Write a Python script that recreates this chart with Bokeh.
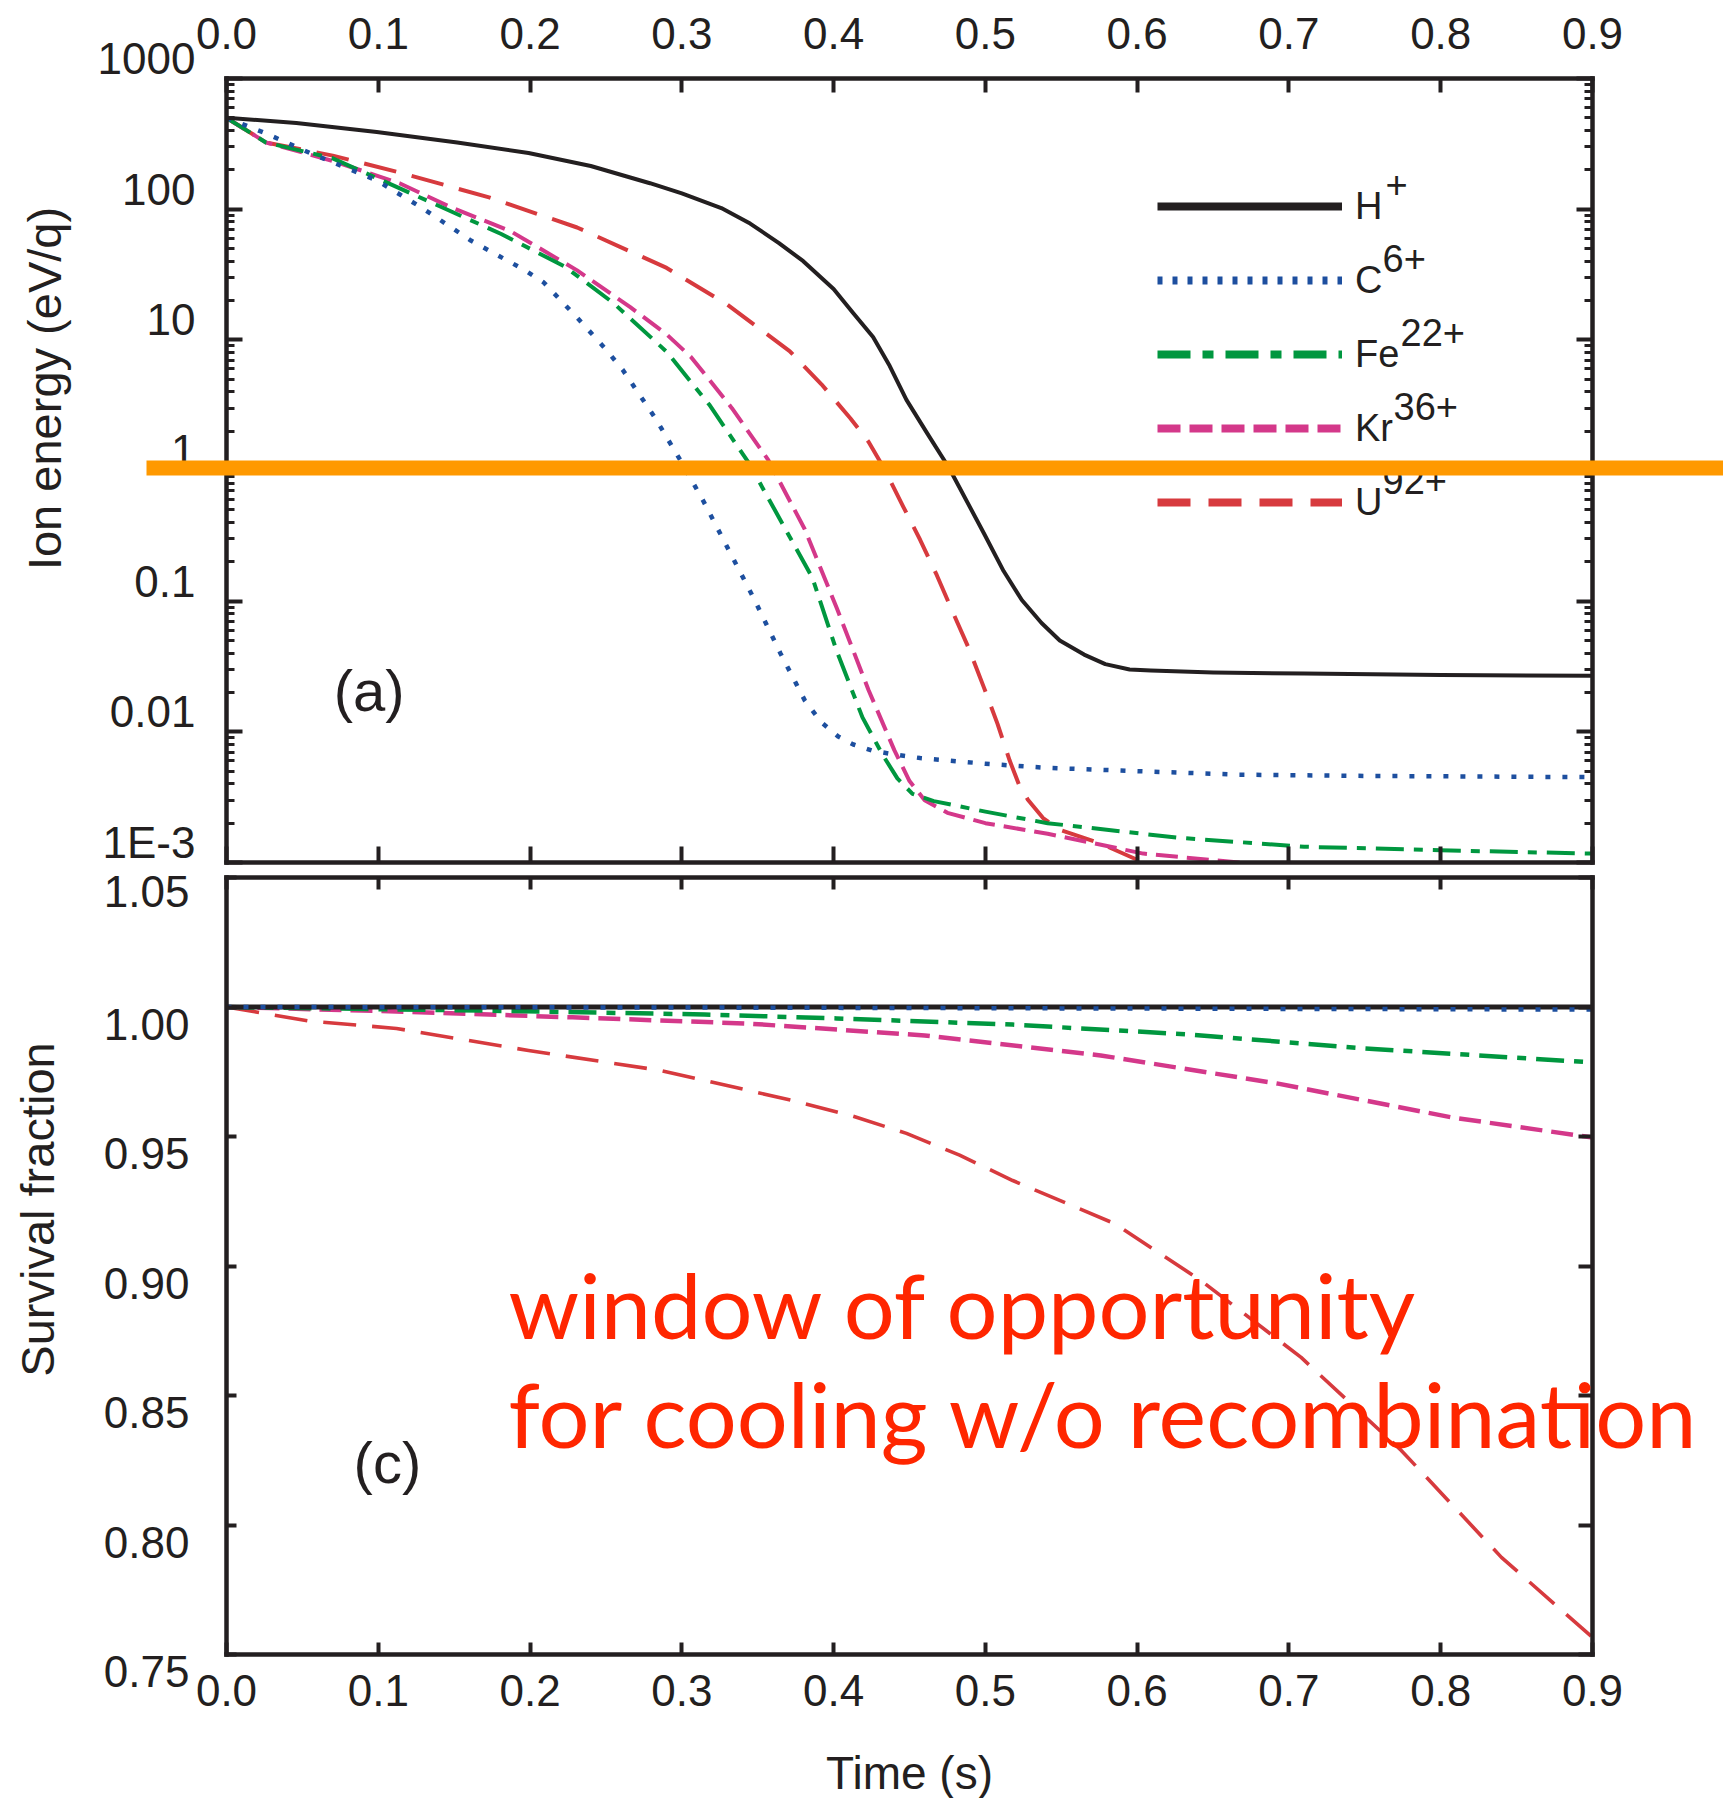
import math
from bokeh.plotting import figure
from bokeh.models import (Range1d, LinearAxis, LogAxis, FixedTicker, PrintfTickFormatter,
                          CustomJSTickFormatter, Legend, LegendItem, Label, BoxAnnotation)
from bokeh.layouts import column
from bokeh.embed import file_html
from bokeh.resources import INLINE

# ---------------- data: (a) ion energy (eV/q) vs time (s) ----------------
T_H = [0.000, 0.046, 0.099, 0.152, 0.199, 0.240, 0.279, 0.300, 0.326, 0.345, 0.364, 0.380,
       0.400, 0.413, 0.426, 0.437, 0.448, 0.462, 0.476, 0.499, 0.512, 0.524, 0.537, 0.549,
       0.565, 0.579, 0.595, 0.609, 0.650, 0.710, 0.800, 0.900]
E_H = [500, 457, 389, 324, 269, 214, 158, 132, 102, 77.6, 55, 40,
       24.5, 16, 10.5, 6.3, 3.47, 1.9, 1.05, 0.331, 0.170, 0.102, 0.068, 0.050,
       0.039, 0.033, 0.030, 0.0295, 0.0285, 0.0279, 0.0272, 0.0269]

T_C = [0.000, 0.026, 0.055, 0.099, 0.129, 0.161, 0.197, 0.209, 0.231, 0.249, 0.261, 0.282,
       0.299, 0.314, 0.331, 0.348, 0.365, 0.381, 0.392, 0.403, 0.413, 0.425, 0.440, 0.457, 0.500,
       0.541, 0.600, 0.667, 0.750, 0.900]
E_C = [500, 380, 269, 166, 102, 57.5, 33.9, 27.5, 14.8, 8.7, 5.9, 2.57,
       1.20, 0.589, 0.245, 0.102, 0.0398, 0.0174, 0.0118, 0.0092, 0.0080, 0.0072, 0.0067, 0.0063, 0.0057,
       0.0053, 0.0050, 0.0047, 0.0046, 0.0045]

T_FE = [0.000, 0.026, 0.070, 0.143, 0.181, 0.223, 0.255, 0.290, 0.318, 0.344, 0.364, 0.386,
        0.402, 0.419, 0.432, 0.442, 0.452, 0.466, 0.500, 0.541, 0.626, 0.710, 0.800, 0.900]
E_FE = [500, 324, 245, 102, 64.6, 36.3, 19.1, 8.1, 3.2, 1.15, 0.437, 0.151,
        0.0417, 0.0129, 0.00676, 0.00440, 0.00335, 0.00295, 0.00245, 0.00200, 0.00155, 0.00132,
        0.00124, 0.00117]

T_KR = [0.000, 0.026, 0.070, 0.114, 0.149, 0.187, 0.231, 0.266, 0.290, 0.306, 0.333, 0.357,
        0.381, 0.402, 0.423, 0.440, 0.450, 0.460, 0.475, 0.500, 0.541, 0.604, 0.667, 0.720]
E_KR = [500, 324, 234, 158, 102, 68, 34, 17.8, 11.0, 7.4, 3.0, 1.2,
        0.355, 0.089, 0.0209, 0.00724, 0.00420, 0.00300, 0.00240, 0.00200, 0.00166, 0.00117,
        0.00100, 0.00089]

T_U = [0.000, 0.026, 0.070, 0.114, 0.173, 0.231, 0.290, 0.330, 0.371, 0.392, 0.411, 0.423,
       0.433, 0.446, 0.457, 0.468, 0.478, 0.489, 0.499, 0.508, 0.516, 0.522, 0.528, 0.538,
       0.549, 0.575, 0.600, 0.620]
E_U = [500, 324, 257, 191, 123, 72.4, 35.5, 18.6, 8.2, 4.57, 2.51, 1.66,
       1.05, 0.525, 0.295, 0.158, 0.0851, 0.0437, 0.0219, 0.0115, 0.00603, 0.00398, 0.00302, 0.00219,
       0.00178, 0.00141, 0.00105, 0.00089]

# ---------------- data: (c) survival fraction vs time (s) ----------------
ST_H = [0.0, 0.3, 0.6, 0.9]
S_H = [1.0, 1.0, 1.0, 1.0]
ST_C = [0.0, 0.3, 0.6, 0.9]
S_C = [1.0, 0.9998, 0.9994, 0.9990]
ST_FE = [0.0, 0.170, 0.315, 0.402, 0.518, 0.634, 0.750, 0.900]
S_FE = [1.0, 0.9986, 0.9971, 0.9956, 0.9932, 0.9894, 0.9840, 0.9786]
ST_KR = [0.0, 0.112, 0.228, 0.344, 0.460, 0.576, 0.692, 0.808, 0.900]
S_KR = [1.0, 0.9983, 0.9960, 0.9936, 0.9890, 0.9813, 0.9705, 0.9573, 0.9496]
ST_U = [0.0, 0.054, 0.112, 0.199, 0.286, 0.373, 0.412, 0.448, 0.483, 0.518, 0.585, 0.642,
        0.708, 0.774, 0.840, 0.900]
S_U = [1.0, 0.9946, 0.9917, 0.9832, 0.9755, 0.9639, 0.9580, 0.9512, 0.9428, 0.9330, 0.9164, 0.8944,
       0.8647, 0.8288, 0.7875, 0.7566]

# ---------------- ticks / labels ----------------
TIME_TICKS = [0.0, 0.1, 0.2, 0.3, 0.4, 0.5, 0.6, 0.7, 0.8, 0.9]
ENERGY_TICKS = [1000, 100, 10, 1, 0.1, 0.01, 0.001]
ENERGY_TICK_LABELS = ["1000", "100", "10", "1", "0.1", "0.01", "1E-3"]
ENERGY_MINOR = [k * 10.0 ** e for e in range(-3, 3) for k in range(2, 10)]
SURV_TICKS = [0.75, 0.80, 0.85, 0.90, 0.95, 1.00, 1.05]
SURV_TICK_LABELS = ["0.75", "0.80", "0.85", "0.90", "0.95", "1.00", "1.05"]

ION_NAMES = ["H", "C", "Fe", "Kr", "U"]
ION_CHARGES = ["+", "6+", "22+", "36+", "92+"]

INK = "#231F20"
FONT = "Liberation Sans"
COLORS = {"H": "#231F20", "C": "#1D4F9F", "Fe": "#00973F", "Kr": "#D4388A", "U": "#D73A3E"}
DASH_DATA = {"H": "solid", "C": "5 12", "Fe": "28 10 9 10", "Kr": "22 9", "U": "33 16"}
DASH_LEG = {"H": "solid", "C": "5 10", "Fe": "33 12 11 12", "Kr": "23 9", "U": "33 18"}
TOP_WIDTH = {"H": 4, "C": 4.5, "Fe": 4, "Kr": 4, "U": 4}
NAN = float("nan")


def style_axis(ax, tick_in, minor_in=0, labels=False, standoff=10):
    ax.axis_line_color = INK
    ax.axis_line_width = 4.5
    ax.axis_line_cap = "square"
    ax.major_tick_line_color = INK
    ax.major_tick_line_width = 4
    ax.major_tick_in = tick_in
    ax.major_tick_out = 0
    if minor_in:
        ax.minor_tick_line_color = INK
        ax.minor_tick_line_width = 3
        ax.minor_tick_in = minor_in
        ax.minor_tick_out = 0
    else:
        ax.minor_tick_line_color = None
    if labels:
        ax.major_label_text_font = FONT
        ax.major_label_text_font_size = "44px"
        ax.major_label_text_color = INK
        ax.major_label_standoff = standoff
    else:
        ax.formatter = CustomJSTickFormatter(code="return ''")
        ax.major_label_text_font_size = "0px"
        ax.major_label_standoff = 0


def label_formatter(vals, labs, log=False, shift="none", keep=-1):
    # shift: add an empty line below ("up") or above ("down") the label so the visible
    # text sits a little above / below its tick as in the original; tick index `keep`
    # is left as a single line (it sits at the edge of the canvas)
    pre = "\\n" if shift == "down" else ""
    post = "\\n" if shift == "up" else ""
    code = """
    const f = (v) => LOG ? Math.log10(v) : v;
    for (let i = 0; i < vals.length; i++) {
        if (Math.abs(f(vals[i]) - f(tick)) < 1e-6) {
            if (i == KEEP) { return labs[i]; }
            return "PRE" + labs[i] + "POST";
        }
    }
    return '';
    """.replace("LOG", "true" if log else "false").replace("PRE", pre) \
       .replace("POST", post).replace("KEEP", str(keep))
    return CustomJSTickFormatter(args=dict(vals=vals, labs=labs), code=code)


def time_ticker():
    return FixedTicker(ticks=TIME_TICKS, minor_ticks=[])


def clean(p):
    p.grid.visible = False
    p.outline_line_color = None
    p.background_fill_color = "white"
    p.border_fill_color = "white"

# ================= top panel (a) =================
p1 = figure(width=1723, height=866, x_range=Range1d(0, 0.9), y_range=Range1d(1e-3, 1e3),
            y_axis_type="log", x_axis_location="above", output_backend="svg",
            toolbar_location=None, min_border_left=226, min_border_right=131,
            min_border_top=78, min_border_bottom=4)
clean(p1)

ax = p1.xaxis[0]
ax.ticker = time_ticker()
ax.formatter = PrintfTickFormatter(format="%.1f")
style_axis(ax, 14, labels=True, standoff=30)

ay = p1.yaxis[0]
ay.ticker = FixedTicker(ticks=ENERGY_TICKS, minor_ticks=ENERGY_MINOR)
style_axis(ay, 16, minor_in=8, labels=True, standoff=31)
ay.formatter = label_formatter(ENERGY_TICKS, ENERGY_TICK_LABELS, log=True, shift="up",
                               keep=len(ENERGY_TICKS) - 1)
ay.major_label_text_line_height = 0.82

axb = LinearAxis(ticker=time_ticker())
style_axis(axb, 16)
p1.add_layout(axb, "below")
ayr = LogAxis(ticker=FixedTicker(ticks=ENERGY_TICKS, minor_ticks=ENERGY_MINOR))
style_axis(ayr, 16, minor_in=8)
p1.add_layout(ayr, "right")

top_data = {"H": (T_H, E_H), "C": (T_C, E_C), "Fe": (T_FE, E_FE), "Kr": (T_KR, E_KR), "U": (T_U, E_U)}
for name in ["U", "Kr", "Fe", "C", "H"]:
    t, e = top_data[name]
    p1.line(t, e, line_color=COLORS[name], line_width=TOP_WIDTH[name], line_dash=DASH_DATA[name],
            line_join="round")

p1.add_layout(Label(x=0.094, y=0.0207, text="(a)", text_font=FONT, text_font_size="58px",
                    text_color=INK, text_align="center", text_baseline="middle"))

# legend (legend-only renderers with thicker sample lines; nothing is drawn in the plot)
items = []
for name in ION_NAMES:
    r = p1.line(x=[NAN], y=[NAN], line_color=COLORS[name], line_width=8, line_dash=DASH_LEG[name])
    items.append(LegendItem(label=name, renderers=[r]))
legend = Legend(items=items, location=(931, 336), orientation="vertical",
                glyph_width=185, glyph_height=48, label_height=48, spacing=26,
                padding=0, margin=0, label_standoff=13,
                background_fill_alpha=0, border_line_alpha=0,
                label_text_font=FONT, label_text_font_size="38px", label_text_color=INK)
p1.add_layout(legend)
SUP_X = [1159, 1156, 1174, 1167, 1156]
for i, ch in enumerate(ION_CHARGES):
    row_center = 336 + 24 + (len(ION_NAMES) - 1 - i) * 74
    p1.add_layout(Label(x=SUP_X[i], y=row_center + 22.5, x_units="screen", y_units="screen",
                        text=ch, text_font=FONT, text_font_size="38px", text_color=INK,
                        text_align="left", text_baseline="middle"))

# ================= bottom panel (c) =================
p2 = figure(width=1723, height=932, x_range=Range1d(0, 0.9), y_range=Range1d(0.75, 1.05),
            output_backend="svg", toolbar_location=None,
            min_border_left=226, min_border_right=131, min_border_top=11, min_border_bottom=144)
clean(p2)

bx = p2.xaxis[0]
bx.ticker = time_ticker()
bx.formatter = PrintfTickFormatter(format="%.1f")
style_axis(bx, 12, labels=True, standoff=20)

by = p2.yaxis[0]
by.ticker = FixedTicker(ticks=SURV_TICKS, minor_ticks=[])
style_axis(by, 10, labels=True, standoff=37)
by.formatter = label_formatter(SURV_TICKS, SURV_TICK_LABELS, shift="down",
                               keep=len(SURV_TICKS) - 1)
by.major_label_text_line_height = 0.7

bxa = LinearAxis(ticker=time_ticker())
style_axis(bxa, 12)
p2.add_layout(bxa, "above")
byr = LinearAxis(ticker=FixedTicker(ticks=SURV_TICKS, minor_ticks=[]))
style_axis(byr, 14)
p2.add_layout(byr, "right")

bot_data = {"H": (ST_H, S_H), "C": (ST_C, S_C), "Fe": (ST_FE, S_FE), "Kr": (ST_KR, S_KR), "U": (ST_U, S_U)}
bot_width = {"H": 5, "C": 4.5, "Fe": 4.5, "Kr": 4.5, "U": 3.6}
for name in ["U", "Kr", "Fe", "H", "C"]:
    t, s = bot_data[name]
    p2.line(t, s, line_color=COLORS[name], line_width=bot_width[name], line_dash=DASH_DATA[name],
            line_join="round")

p2.add_layout(Label(x=0.106, y=0.824, text="(c)", text_font=FONT, text_font_size="58px",
                    text_color=INK, text_align="center", text_baseline="middle"))

# ================= transparent overlay for items that cross the plot frames =================
ov = figure(width=1723, height=1798, x_range=Range1d(0, 1723), y_range=Range1d(1798, 0),
            x_axis_location=None, y_axis_location=None, toolbar_location=None,
            output_backend="svg", min_border=0, margin=(-1798, 0, 0, 0))
ov.grid.visible = False
ov.outline_line_color = None
ov.background_fill_alpha = 0
ov.border_fill_alpha = 0

ov.add_layout(BoxAnnotation(left=146, right=1723, top=460, bottom=475,
                            fill_color="#FF9900", fill_alpha=1.0, line_color=None))
ov.add_layout(Label(x=44, y=388, angle=math.pi / 2, text="Ion energy (eV/q)",
                    text_font=FONT, text_font_size="47px", text_color=INK,
                    text_align="center", text_baseline="middle"))
ov.add_layout(Label(x=37, y=1209, angle=math.pi / 2, text="Survival fraction",
                    text_font=FONT, text_font_size="47px", text_color=INK,
                    text_align="center", text_baseline="middle"))
ov.add_layout(Label(x=909, y=1772, text="Time (s)", text_font=FONT, text_font_size="46px",
                    text_color=INK, text_align="center", text_baseline="middle"))
RED_TXT = "#FF2600"
ov.add_layout(Label(x=508, y=1303, text="window of opportunity", text_font="Lato",
                    text_font_size="90px", text_color=RED_TXT, text_align="left",
                    text_baseline="middle"))
ov.add_layout(Label(x=508, y=1412, text="for cooling w/o recombination", text_font="Lato",
                    text_font_size="90px", text_color=RED_TXT, text_align="left",
                    text_baseline="middle"))

if "frame_align" in ov.properties():
    ov.frame_align = False
    roots = column(p1, p2, ov, spacing=0)
else:
    roots = [column(p1, p2, spacing=0), ov]

open("out.html", "w").write(file_html(roots, INLINE))
